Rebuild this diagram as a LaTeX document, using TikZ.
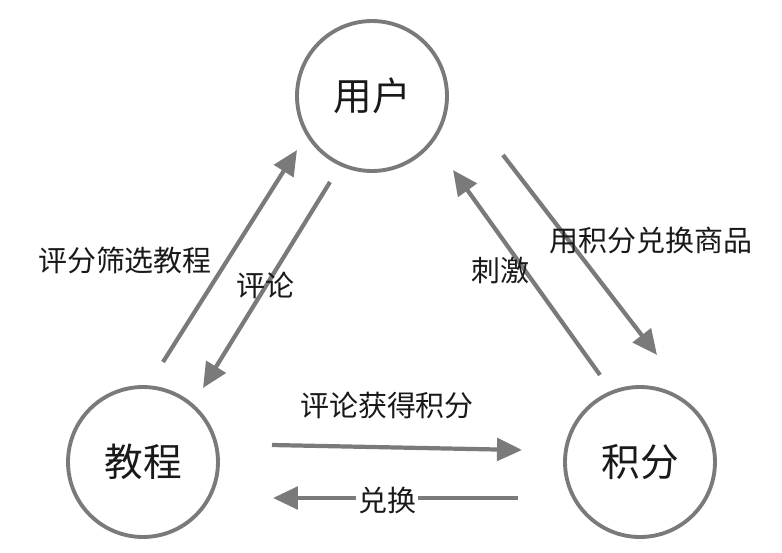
\documentclass[tikz,border=0pt]{standalone}
\usepackage{fontspec}
\newfontfamily\cjk{Noto Sans CJK SC}
\usetikzlibrary{arrows.meta}
\definecolor{flowgray}{HTML}{7A7A7A}
\tikzset{
  role/.style={circle,draw=flowgray,line width=2.2pt,minimum size=3.0cm,inner sep=0pt,font=\cjk\fontsize{22}{22}\selectfont,text=black!90},
  flow/.style={draw=flowgray,line width=2.4pt,-{Triangle[length=0.5cm,width=0.45cm]}},
  tag/.style={font=\cjk\fontsize{16.5}{16.5}\selectfont,text=black!90}
}
\begin{document}
\begin{tikzpicture}[x=0.02cm,y=-0.02cm]
  \useasboundingbox (0,0) rectangle (782,552);
  % circles
  \node[role] (user) at (372,96) {用户};
  \node[role] (course) at (143,462) {教程};
  \node[role] (points) at (640,462) {积分};
  % arrow ends
  \coordinate (a1) at (163,362); \coordinate (a2) at (297,150);
  \coordinate (b1) at (330,182); \coordinate (b2) at (203,388);
  \coordinate (c1) at (600,375); \coordinate (c2) at (453,170);
  \coordinate (d1) at (503,155); \coordinate (d2) at (657,355);
  \coordinate (e1) at (272,445); \coordinate (e2) at (522,450);
  \coordinate (f1) at (518,498); \coordinate (f2) at (273,498);
  \draw[flow] (a1) -- (a2);
  \draw[flow] (b1) -- (b2);
  \draw[flow] (c1) -- (c2);
  \draw[flow] (d1) -- (d2);
  \draw[flow] (e1) -- (e2);
  \draw[flow] (f1) -- (f2);
  % labels
  \node[tag] (t1) at (125,260) {评分筛选教程};
  \node[tag] (t2) at (265,285) {评论};
  \node[tag] (t3) at (500,270) {刺激};
  \node[tag] (t4) at (651,240) {用积分兑换商品};
  \node[tag] (t5) at (387,405) {评论获得积分};
  \node[tag,fill=white,inner sep=1pt] (t6) at (387,500) {兑换};
\end{tikzpicture}
\end{document}
